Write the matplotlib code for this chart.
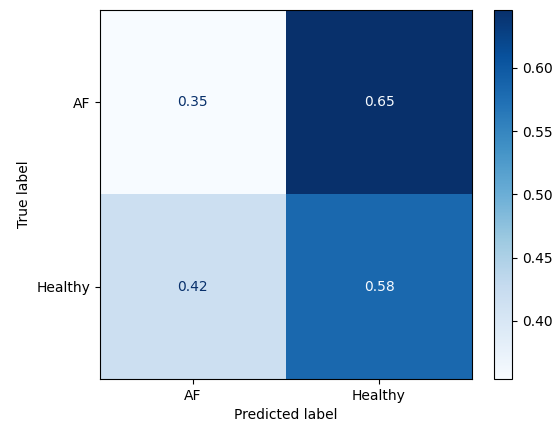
import numpy as np
import matplotlib
matplotlib.use("Agg")
import matplotlib.pyplot as plt

labels = ["AF", "Healthy"]
cm = np.array([[0.354, 0.646],
               [0.417, 0.583]])

fig = plt.figure(figsize=(5.58, 4.24), dpi=100)
ax = fig.add_axes([0.179, 0.106, 0.667, 0.871])
cax = fig.add_axes([0.885, 0.106, 0.033, 0.871])

cmap = plt.cm.Blues
im = ax.imshow(cm, cmap=cmap, interpolation="nearest", aspect="auto")
fig.colorbar(im, cax=cax)

thresh = (cm.max() + cm.min()) / 2.0
cmap_min, cmap_max = cmap(0.0), cmap(1.0)
for i in range(cm.shape[0]):
    for j in range(cm.shape[1]):
        color = cmap_max if cm[i, j] < thresh else cmap_min
        ax.text(j, i, format(cm[i, j], ".2g"), ha="center", va="center", color=color)

ax.set_xticks(np.arange(len(labels)), labels=labels)
ax.set_yticks(np.arange(len(labels)), labels=labels)
ax.set_xlabel("Predicted label")
ax.set_ylabel("True label")

fig.savefig("out.png", dpi=100)
